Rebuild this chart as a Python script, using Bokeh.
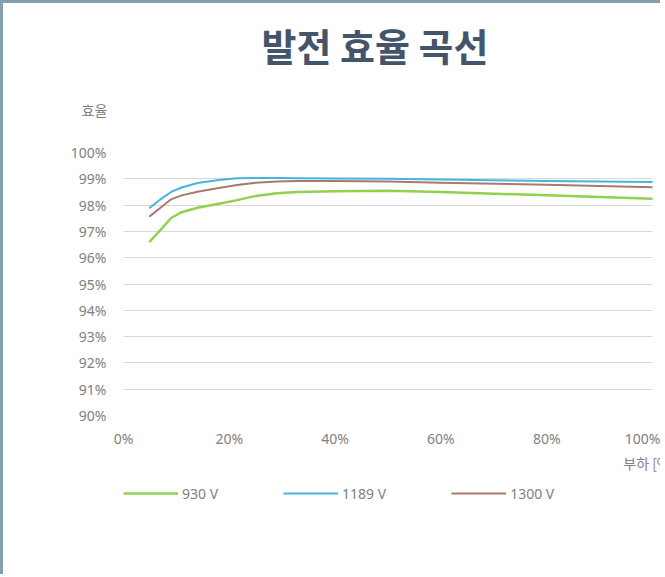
from bokeh.plotting import figure
from bokeh.models import Legend, LegendItem, FixedTicker, PrintfTickFormatter, Range1d, Title
from bokeh.layouts import column
from bokeh.embed import file_html
from bokeh.resources import INLINE

# Data (load % vs efficiency %)
load = [5, 7, 9, 11, 14, 18, 21.5, 25, 29, 33, 40, 50, 60, 80, 100]
eff_930 = [96.62, 97.06, 97.51, 97.73, 97.9, 98.05, 98.19, 98.35, 98.45, 98.5, 98.53, 98.55, 98.5, 98.37, 98.24]
eff_1189 = [97.9, 98.22, 98.5, 98.67, 98.84, 98.95, 99.02, 99.03, 99.03, 99.02, 99.01, 99.0, 98.97, 98.92, 98.88]
eff_1300 = [97.58, 97.9, 98.22, 98.37, 98.51, 98.65, 98.76, 98.85, 98.9, 98.92, 98.92, 98.9, 98.85, 98.77, 98.68]
series = [eff_930, eff_1189, eff_1300]
series_names = ["930 V", "1189 V", "1300 V"]
colors = ["#92d050", "#45b5de", "#a87a6e"]
widths = [2.5, 2, 2]
x_ticks = [0, 20, 40, 60, 80, 100]
y_ticks = [90, 91, 92, 93, 94, 95, 96, 97, 98, 99, 100]

title_text = "발전 효율 곡선"
y_label = "효율"
x_label = "부하 [%]"

FONT = "Noto Sans"
KFONT = "Noto Sans CJK KR"
GRAY = "#808080"
BORDER = "3px solid #84a0ad"

# ---------------- main chart ----------------
p = figure(frame_width=526, frame_height=260, output_backend="svg", toolbar_location=None,
           x_range=Range1d(0, 100), y_range=Range1d(90, 100),
           min_border_left=89, min_border_right=42, min_border_top=0, min_border_bottom=64,
           styles={"border-left": BORDER, "border-top": BORDER})
p.outline_line_color = None
p.background_fill_color = "white"
p.border_fill_color = "white"

p.xgrid.grid_line_color = None
p.ygrid.grid_line_color = "#d9d9d6"
p.ygrid.grid_line_width = 1

for ax in (p.xaxis[0], p.yaxis[0]):
    ax.axis_line_color = None
    ax.major_tick_line_color = None
    ax.minor_tick_line_color = None
    ax.major_tick_out = 0
    ax.major_tick_in = 0
    ax.minor_tick_out = 0
    ax.major_label_text_color = GRAY
    ax.major_label_text_font = FONT
    ax.major_label_text_font_size = "14px"
    ax.formatter = PrintfTickFormatter(format="%d%%")
p.xaxis[0].ticker = FixedTicker(ticks=x_ticks)
p.yaxis[0].ticker = FixedTicker(ticks=y_ticks)
p.xaxis[0].major_label_standoff = 13
p.yaxis[0].major_label_standoff = 17

for ys, c, w in zip(series, colors, widths):
    p.line(load, ys, line_color=c, line_width=w, line_join="round", line_cap="round")

# Above panel (first added sits closest to the frame)
p.add_layout(Title(text=" ", text_font_size="15px", standoff=0), "above")
p.add_layout(Title(text=y_label, align="left", offset=-42, text_font=KFONT,
                   text_font_size="14px", text_font_style="normal", text_color=GRAY,
                   standoff=28), "above")
p.add_layout(Title(text=title_text, align="left", offset=138, text_font=KFONT,
                   text_font_size="38px", text_font_style="bold", text_color="#44546a",
                   standoff=23), "above")

# x-axis title under the tick labels
p.add_layout(Title(text=x_label, align="right", offset=-22, text_font=KFONT,
                   text_font_size="14px", text_font_style="normal", text_color=GRAY,
                   standoff=0), "below")

# ---------------- legend strip ----------------
lg = figure(width=657, height=98, output_backend="svg", toolbar_location=None,
            x_range=Range1d(0, 100), y_range=Range1d(0, 1),
            x_axis_location=None, y_axis_location=None,
            min_border_left=120, min_border_top=7, min_border_right=0, min_border_bottom=0,
            styles={"border-left": BORDER})
lg.outline_line_color = None
lg.xgrid.grid_line_color = None
lg.ygrid.grid_line_color = None
lg.background_fill_color = "white"
lg.border_fill_color = "white"

# same series (they fall outside this strip's y range, so only their legend keys show)
leg_renderers = []
for ys, c, w in zip(series, colors, widths):
    leg_renderers.append(lg.line(load, ys, line_color=c, line_width=w))

legend = Legend(items=[LegendItem(label=n, renderers=[r]) for n, r in zip(series_names, leg_renderers)],
                orientation="horizontal", location="top_left", glyph_width=55, glyph_height=20,
                label_text_font=FONT, label_text_font_size="14px", label_text_color=GRAY,
                label_standoff=4, padding=0, margin=0, spacing=65,
                background_fill_alpha=0, border_line_alpha=0)
lg.add_layout(legend, "center")

layout = column(p, lg, spacing=0)
open("out.html", "w").write(file_html(layout, INLINE))
